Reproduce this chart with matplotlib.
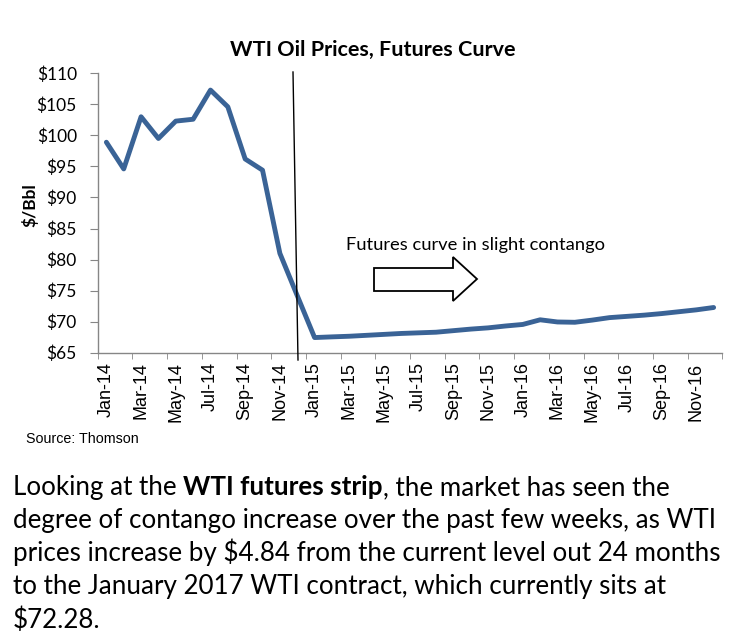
import matplotlib
matplotlib.use('Agg')
import numpy as np
import matplotlib.pyplot as plt
from matplotlib.patches import Polygon
from matplotlib.lines import Line2D

# ---------------- data ----------------
months = ['Jan-14', 'Feb-14', 'Mar-14', 'Apr-14', 'May-14', 'Jun-14', 'Jul-14', 'Aug-14',
          'Sep-14', 'Oct-14', 'Nov-14', 'Dec-14',
          'Jan-15', 'Feb-15', 'Mar-15', 'Apr-15', 'May-15', 'Jun-15', 'Jul-15', 'Aug-15',
          'Sep-15', 'Oct-15', 'Nov-15', 'Dec-15',
          'Jan-16', 'Feb-16', 'Mar-16', 'Apr-16', 'May-16', 'Jun-16', 'Jul-16', 'Aug-16',
          'Sep-16', 'Oct-16', 'Nov-16', 'Dec-16']
prices = [98.9, 94.6, 103.0, 99.5, 102.3, 102.6, 107.3, 104.6, 96.2, 94.4, 81.0, 74.2,
          67.44, 67.55, 67.65, 67.8, 67.95, 68.1, 68.2, 68.3, 68.55, 68.8, 69.0, 69.3,
          69.55, 70.3, 69.95, 69.9, 70.25, 70.65, 70.85, 71.05, 71.3, 71.6, 71.9, 72.28]
y_ticks = [65, 70, 75, 80, 85, 90, 95, 100, 105, 110]

title = 'WTI Oil Prices, Futures Curve'
y_label = '$/Bbl'
note = 'Futures curve in slight contango'
source = 'Source: Thomson'
para_line1 = [('Looking at the', 'normal'), ('WTI futures strip', 'bold'),
              (', the market has seen the', 'normal')]
para_lines = ['degree of contango increase over the past few weeks, as WTI',
              'prices increase by $4.84 from the current level out 24 months',
              'to the January 2017 WTI contract, which currently sits at',
              '$72.28.']

# ---------------- figure ----------------
W, H = 743, 644
fig = plt.figure(figsize=(W / 100, H / 100), dpi=100)
fig.patch.set_facecolor('white')


def P(x, y):
    return (x / W, 1 - y / H)


renderer = fig.canvas.get_renderer()


def width_of(t):
    return t.get_window_extent(renderer=renderer).width


def fit(t, target):
    t.set_fontsize(t.get_fontsize() * target / width_of(t))
    return t


ax_l, ax_r, ax_t, ax_b = 97.7, 722.3, 73.3, 352.7
ax = fig.add_axes([ax_l / W, 1 - ax_b / H, (ax_r - ax_l) / W, (ax_b - ax_t) / H])

x = np.arange(len(prices))
ax.plot(x, prices, color='#3A6396', lw=3.5, solid_joinstyle='round', solid_capstyle='round')
ax.set_xlim(-0.5, len(prices) - 0.5)
ax.set_ylim(65, 110)

grey = '#868686'
for s in ['top', 'right']:
    ax.spines[s].set_visible(False)
for s in ['left', 'bottom']:
    ax.spines[s].set_color(grey)
    ax.spines[s].set_linewidth(1.0)

ax.set_yticks(y_ticks)
ax.set_yticklabels(['$' + str(v) for v in y_ticks], fontfamily='Lato', fontsize=12.5)
ax.tick_params(axis='y', length=5.5, color=grey, pad=9.5)

ax.set_xticks(x[::2])
ax.set_xticklabels(months[::2], rotation=90, fontfamily='Liberation Sans', fontsize=13)
ax.set_xticks(np.arange(-0.5, len(prices), 2), minor=True)
ax.tick_params(axis='x', which='major', length=0, pad=7)
ax.tick_params(axis='x', which='minor', length=4.5, color=grey)

# title & labels
t = fig.text(*P(230, 56), title, fontfamily='Lato', fontweight='bold', fontsize=13,
             ha='left', va='baseline')
fit(t, 284)
fig.text(*P(30, 205), y_label, fontfamily='Lato', fontweight='bold', fontsize=12.5,
         rotation=90, ha='center', va='center')

# annotation
t = fig.text(*P(346, 250), note, fontfamily='Lato', fontsize=12.5, ha='left', va='baseline')
fit(t, 259)
arrow_px = [(374, 268), (453, 268), (453, 257), (477, 279), (453, 301), (453, 291), (374, 291)]
fig.add_artist(Polygon([P(a, b) for a, b in arrow_px], closed=True,
                       transform=fig.transFigure, fc='white', ec='black', lw=1.3))

# vertical marker line
fig.add_artist(Line2D([293 / W, 298 / W], [1 - 72 / H, 1 - 360 / H],
                      transform=fig.transFigure, color='black', lw=1.0))

# source
t = fig.text(*P(26, 443), source, fontfamily='Liberation Sans', fontsize=9,
             ha='left', va='baseline')
fit(t, 112)

# paragraph
ref = fig.text(*P(13, 561), para_lines[1], fontfamily='Lato', fontsize=17,
               ha='left', va='baseline')
fit(ref, 706)
fs = ref.get_fontsize()
ref.remove()

baselines = [495, 528, 561, 594, 628]
tmp1 = fig.text(0, 0, 'x x', fontfamily='Lato', fontsize=fs)
tmp2 = fig.text(0, 0, 'xx', fontfamily='Lato', fontsize=fs)
space = width_of(tmp1) - width_of(tmp2)
tmp1.remove(); tmp2.remove()

xpos = 13
for i, (txt, wt) in enumerate(para_line1):
    if i == 1:
        xpos += space
    t = fig.text(*P(xpos, baselines[0]), txt, fontfamily='Lato', fontweight=wt,
                 fontsize=fs, ha='left', va='baseline')
    xpos += width_of(t)
    if i == 1:
        pass
for line, b in zip(para_lines, baselines[1:]):
    fig.text(*P(13, b), line, fontfamily='Lato', fontsize=fs, ha='left', va='baseline')

fig.savefig('out.png', dpi=100, facecolor='white')
